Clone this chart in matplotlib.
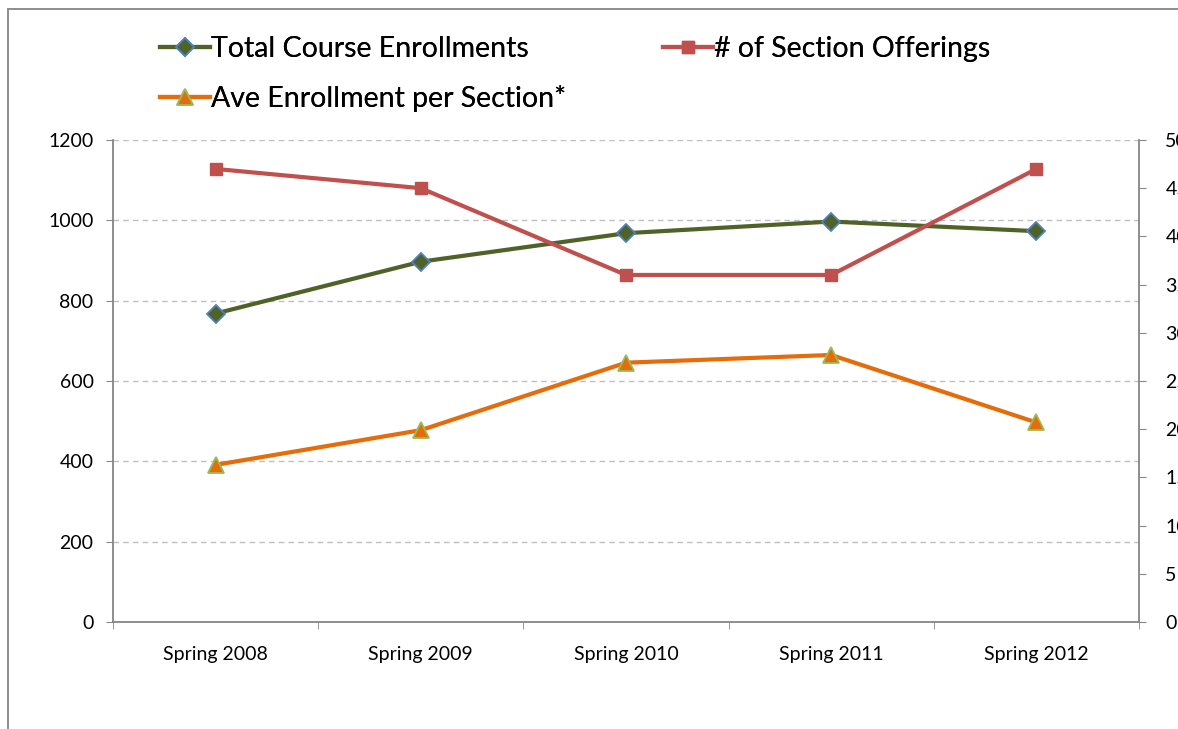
import numpy as np
import matplotlib
matplotlib.use('Agg')
import matplotlib.pyplot as plt
from matplotlib.patches import Rectangle
from matplotlib.ticker import MultipleLocator, FixedLocator

plt.rcParams['font.family'] = ['Lato', 'DejaVu Sans']

terms = ['Spring 2008', 'Spring 2009', 'Spring 2010', 'Spring 2011', 'Spring 2012']
total_enroll = [768, 897, 968, 997, 973]
sections = [47, 45, 36, 36, 47]
ave_enroll = [16.3, 19.9, 26.9, 27.7, 20.7]

axis_grey = '#868686'

fig = plt.figure(figsize=(11.78, 7.29), dpi=100)
ax = fig.add_axes([113/1178, 1 - 622/729, (1139 - 113)/1178, (622 - 140)/729])
ax2 = ax.twinx()

x = np.arange(len(terms))

ax.plot(x, total_enroll, color='#4F6228', lw=3, marker='D', ms=9,
        mfc='#4F6228', mec='#4F81BD', mew=1.3, zorder=3)
ax2.plot(x, sections, color='#C0504D', lw=3, marker='s', ms=8,
         mfc='#C0504D', mec='#C0504D', zorder=3)
ax2.plot(x, ave_enroll, color='#E46C0A', lw=3, marker='^', ms=11,
         mfc='#E46C0A', mec='#9BBB59', mew=1.3, zorder=3)

ax.set_xlim(-0.5, len(terms) - 0.5)
ax.set_ylim(0, 1200)
ax2.set_ylim(0, 50)
ax.yaxis.set_major_locator(MultipleLocator(200))
ax2.yaxis.set_major_locator(MultipleLocator(5))

# category labels in the middle, tick marks on band edges
ax.set_xticks(x)
ax.set_xticklabels(terms)
ax.xaxis.set_minor_locator(FixedLocator(np.arange(-0.5, len(terms), 1.0)))
ax.tick_params(axis='x', which='major', length=0, pad=17, labelsize=14)
ax.tick_params(axis='x', which='minor', length=5, color=axis_grey, direction='out')
ax.tick_params(axis='y', length=5, color=axis_grey, labelsize=14, pad=9)
ax2.tick_params(axis='y', length=5, color=axis_grey, labelsize=14, pad=14)

ax.grid(axis='y', color='#BFBFBF', ls=(0, (4, 3)), lw=1)
ax.set_axisbelow(True)

for a in (ax, ax2):
    a.spines['top'].set_visible(False)
    for s in ('left', 'right', 'bottom'):
        a.spines[s].set_color(axis_grey)
        a.spines[s].set_linewidth(1.3)
ax.spines['right'].set_visible(False)
ax2.spines['left'].set_visible(False)
ax2.spines['bottom'].set_visible(False)

# legend entries placed one by one like the original
h_total = ax.lines[0]
h_sec, h_ave = ax2.lines
legend_spots = [(h_total, 'Total Course Enrollments', 160/1178, 1 - 49/729),
                (h_sec, '# of Section Offerings', 663/1178, 1 - 49/729),
                (h_ave, 'Ave Enrollment per Section*', 160/1178, 1 - 98/729)]
for h, lab, lx, ly in legend_spots:
    leg = fig.legend([h], [lab], loc='center left', bbox_to_anchor=(lx, ly),
                     frameon=False, fontsize=20.5, handlelength=1.75,
                     handletextpad=0.05, borderpad=0, borderaxespad=0)
    fig.add_artist(leg)

# chart border (partially off-canvas)
fig.patches.append(Rectangle((8/1178, -0.1), 1.2, 1.1 - 9/729, transform=fig.transFigure,
                             fill=False, edgecolor=axis_grey, lw=1.3, clip_on=False))

fig.savefig('out.png', dpi=100)
